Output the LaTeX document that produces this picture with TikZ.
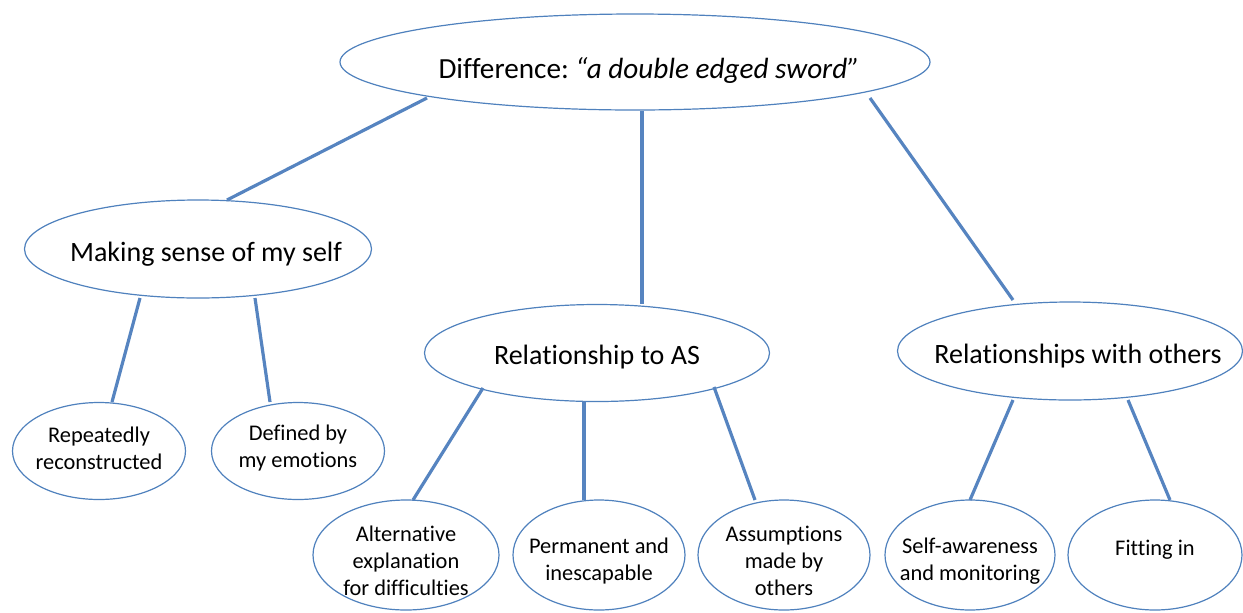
\documentclass[tikz,border=0pt]{standalone}
\usepackage{fontspec}
\setmainfont{Carlito}[Ligatures=NoCommon]
\frenchspacing
\usetikzlibrary{shapes.geometric,calc}
\definecolor{oline}{RGB}{79,129,189}
\definecolor{cline}{RGB}{86,132,192}
\tikzset{
  oval/.style={ellipse, draw=oline, line width=0.6pt, fill=white, inner sep=0pt, outer sep=0pt},
  bigtxt/.style={font=\fontsize{14}{17}\selectfont},
  toptxt/.style={font=\fontsize{14.6}{17}\selectfont},
  smalltxt/.style={font=\fontsize{11.2}{13.6}\selectfont, align=center},
  link/.style={draw=cline, line width=1.6pt}
}
\begin{document}
\begin{tikzpicture}[x=0.5pt,y=-0.5pt]
\useasboundingbox (0,0) rectangle (1243,612);
% ovals
\node[oval, minimum width=295pt, minimum height=48pt,
  label={[toptxt, xshift=7pt, yshift=-4pt]center:Difference: \textit{“a double edged sword”}}] (top) at (635,62) {};
\node[oval, minimum width=173.5pt, minimum height=49pt,
  label={[bigtxt, xshift=4pt, yshift=-2.5pt]center:Making sense of my self}] (making) at (198,249) {};
\node[oval, minimum width=172.5pt, minimum height=48.5pt,
  label={[bigtxt, xshift=0pt, yshift=-2pt]center:Relationship to AS}] (as) at (597,353) {};
\node[oval, minimum width=172.5pt, minimum height=49pt,
  label={[bigtxt, xshift=4pt, yshift=-2.5pt]center:Relationships with others}] (others) at (1070,351) {};
\node[oval, minimum width=86.5pt, minimum height=48.5pt,
  label={[smalltxt, yshift=1.5pt]center:Repeatedly\\reconstructed}] (repeat) at (99,451) {};
\node[oval, minimum width=86.5pt, minimum height=48.5pt,
  label={[smalltxt, yshift=1.5pt]center:Defined by\\my emotions}] (defined) at (298,451) {};
\node[oval, minimum width=93pt, minimum height=55pt,
  label={[smalltxt, yshift=-3pt]center:Alternative\\explanation\\for difficulties}] (alt) at (406,555) {};
\node[oval, minimum width=86pt, minimum height=55pt,
  label={[smalltxt, yshift=-3pt]center:Permanent and\\inescapable}] (perm) at (599,555) {};
\node[oval, minimum width=86pt, minimum height=55pt,
  label={[smalltxt, yshift=-3pt]center:Assumptions\\made by\\others}] (assum) at (784,555) {};
\node[oval, minimum width=85pt, minimum height=55pt,
  label={[smalltxt, yshift=-3pt]center:Self-awareness\\and monitoring}] (self) at (970,555) {};
\node[oval, minimum width=87pt, minimum height=55pt,
  label={[smalltxt, yshift=2.5pt]center:Fitting in}] (fit) at (1155,555) {};
% connectors
\draw[link] ($(top.center)+(-208,36)$) -- ($(making.center)+(29,-49)$);
\draw[link] ($(top.center)+(7,49)$) -- ($(as.center)+(45,-49)$);
\draw[link] ($(top.center)+(235,36)$) -- ($(others.center)+(-57,-51)$);
\draw[link] ($(making.center)+(-58,49)$) -- ($(repeat.center)+(13,-49)$);
\draw[link] ($(making.center)+(57,49)$) -- ($(defined.center)+(-28,-49)$);
\draw[link] ($(as.center)+(-114,35)$) -- ($(alt.center)+(7,-55)$);
\draw[link] ($(as.center)+(-13,48)$) -- ($(perm.center)+(-15,-55)$);
\draw[link] ($(as.center)+(117,34)$) -- ($(assum.center)+(-29,-55)$);
\draw[link] ($(others.center)+(-57,49)$) -- ($(self.center)+(0,-55)$);
\draw[link] ($(others.center)+(58,49)$) -- ($(fit.center)+(15,-55)$);
\end{tikzpicture}
\end{document}
